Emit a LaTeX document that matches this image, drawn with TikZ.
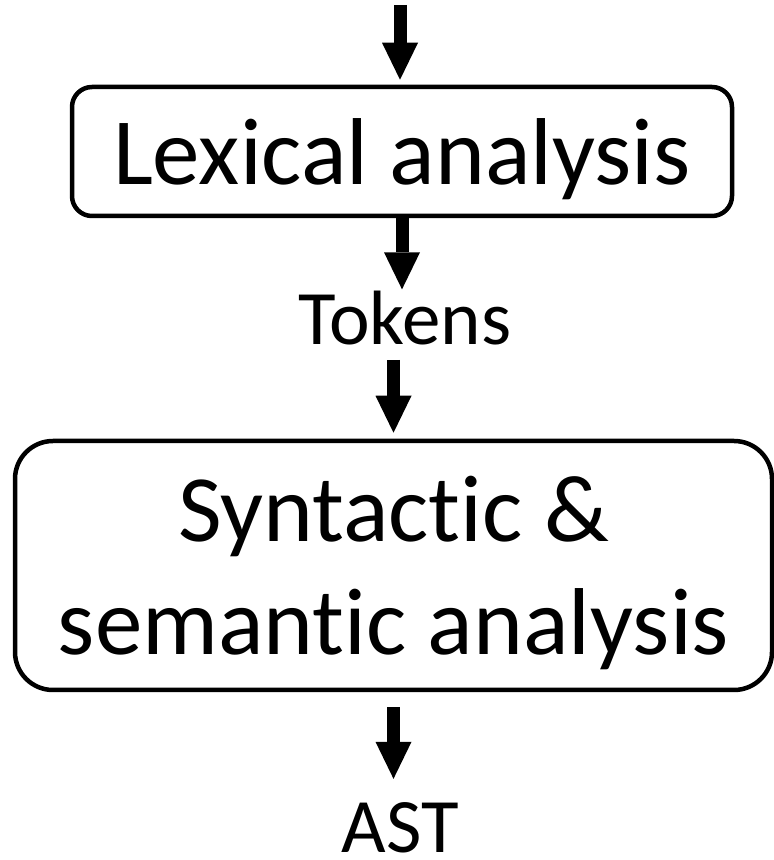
\documentclass[tikz,border=0pt]{standalone}
\usepackage{fontspec}
\setmainfont{Carlito}[Ligatures={NoCommon,NoContextual}]
\usetikzlibrary{arrows.meta}

\tikzset{
  stage/.style={draw,line width=4.5pt,align=center,text depth=0pt,
    font=\fontsize{95}{113}\selectfont},
  lbl/.style={inner sep=0pt,anchor=base,font=\fontsize{77}{90}\selectfont},
  blk/.style={line width=13pt,
    -{Triangle[width=36pt,length=37pt,line width=0pt]}}
}

\begin{document}
\begin{tikzpicture}[x=1pt,y=1pt]
      \useasboundingbox (0,0) rectangle (774,860);
      \coordinate (in) at (400,855);
      \node[stage,minimum width=660,minimum height=129,rounded corners=20pt]
        (lex) at (402,708.5) {Lexical analysis};
      \node[lbl] (tok) at (405,515) {Tokens};
      \node[stage,minimum width=757,minimum height=249,rounded corners=38pt]
        (syn) at (393.5,294.5) {Syntactic \&\\semantic analysis};
      \node[lbl] (ast) at (400,7) {AST};
      \draw[blk,shorten >=5pt] (in) -- (in |- lex.north);
      \draw[blk,shorten >=2pt] (lex.south) -- (lex.south |- tok.north);
      \draw[blk,shorten <=14pt,shorten >=6pt] (syn.north |- tok.south) -- (syn.north);
      \draw[blk,shorten <=15pt,shorten >=24pt] (syn.south) -- (syn.south |- ast.north);
\end{tikzpicture}
\end{document}
